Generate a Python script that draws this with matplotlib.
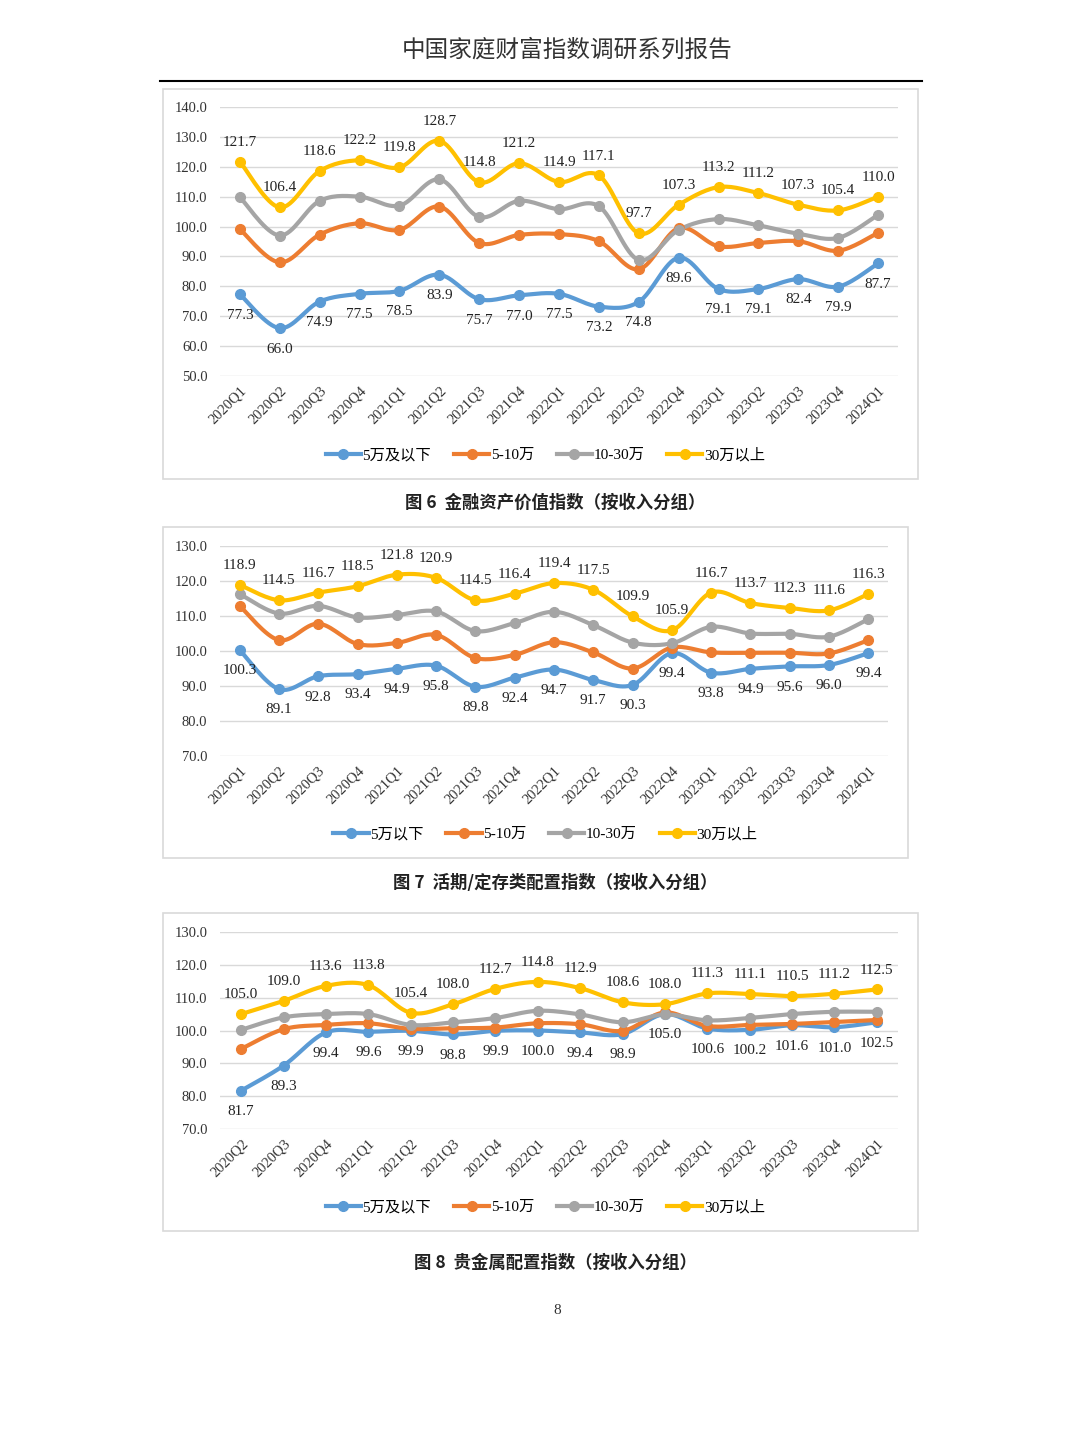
import matplotlib
matplotlib.use("Agg")
import matplotlib.pyplot as plt
import numpy as np
from matplotlib.patches import Rectangle
from matplotlib.lines import Line2D

plt.rcParams['font.family'] = ['Liberation Serif', 'Noto Sans CJK SC', 'DejaVu Sans']

# ---- data ----
quarters_a = ["2020Q1", "2020Q2", "2020Q3", "2020Q4", "2021Q1", "2021Q2", "2021Q3", "2021Q4",
              "2022Q1", "2022Q2", "2022Q3", "2022Q4", "2023Q1", "2023Q2", "2023Q3", "2023Q4", "2024Q1"]
quarters_b = quarters_a[1:]

# figure 6: financial asset value index
fin_low = [77.3, 66.0, 74.9, 77.5, 78.5, 83.9, 75.7, 77.0, 77.5, 73.2, 74.8, 89.6, 79.1, 79.1, 82.4, 79.9, 87.7]
fin_mid = [99.1, 88.0, 97.3, 101.1, 98.9, 106.7, 94.5, 97.2, 97.5, 95.1, 85.7, 99.5, 93.4, 94.5, 95.1, 91.9, 97.9]
fin_upper = [109.8, 97.0, 108.6, 110.0, 107.0, 115.8, 103.2, 108.6, 105.8, 106.8, 88.8, 98.9, 102.5, 100.4, 97.6, 96.2, 103.9]
fin_high = [121.7, 106.4, 118.6, 122.2, 119.8, 128.7, 114.8, 121.2, 114.9, 117.1, 97.7, 107.3, 113.2, 111.2, 107.3, 105.4, 110.0]

# figure 7: demand/time deposit allocation index
dep_low = [100.3, 89.1, 92.8, 93.4, 94.9, 95.8, 89.8, 92.4, 94.7, 91.7, 90.3, 99.4, 93.8, 94.9, 95.6, 96.0, 99.4]
dep_mid = [112.9, 103.1, 107.8, 102.0, 102.3, 104.6, 98.0, 98.9, 102.5, 99.6, 95.0, 101.0, 99.6, 99.5, 99.5, 99.3, 103.1]
dep_upper = [116.3, 110.7, 112.9, 109.6, 110.3, 111.3, 105.7, 108.0, 111.2, 107.4, 102.4, 102.2, 106.9, 105.0, 104.9, 104.1, 109.1]
dep_high = [118.9, 114.5, 116.7, 118.5, 121.8, 120.9, 114.5, 116.4, 119.4, 117.5, 109.9, 105.9, 116.7, 113.7, 112.3, 111.6, 116.3]

# figure 8: precious metal allocation index
met_low = [81.7, 89.3, 99.4, 99.6, 99.9, 98.8, 99.9, 100.0, 99.4, 98.9, 105.0, 100.6, 100.2, 101.6, 101.0, 102.5]
met_mid = [94.4, 100.4, 101.7, 102.2, 100.5, 100.7, 100.9, 102.2, 101.9, 99.9, 105.5, 101.4, 101.7, 102.0, 102.6, 103.2]
met_upper = [100.2, 104.0, 105.0, 105.0, 101.7, 102.5, 103.8, 106.0, 104.9, 102.5, 104.9, 103.1, 103.8, 105.0, 105.7, 105.7]
met_high = [105.0, 109.0, 113.6, 113.8, 105.4, 108.0, 112.7, 114.8, 112.9, 108.6, 108.0, 111.3, 111.1, 110.5, 111.2, 112.5]

colors = ["#5B9BD5", "#ED7D31", "#A5A5A5", "#FFC000"]
W, H = 1080, 1443


def box(x0, y0, x1, y1):
    return [x0 / W, 1 - y1 / H, (x1 - x0) / W, (y1 - y0) / H]


def smooth(y, n=16):
    # Catmull-Rom curve through the points, similar to Excel's smoothed lines
    y = np.asarray(y, float)
    x = np.arange(len(y), dtype=float)
    p = np.column_stack([x, y])
    p = np.vstack([p[0], p, p[-1]])
    out = []
    t = np.linspace(0, 1, n, endpoint=False)[:, None]
    for i in range(1, len(p) - 2):
        p0, p1, p2, p3 = p[i - 1], p[i], p[i + 1], p[i + 2]
        seg = 0.5 * ((2 * p1) + (-p0 + p2) * t + (2 * p0 - 5 * p1 + 4 * p2 - p3) * t ** 2
                     + (-p0 + 3 * p1 - 3 * p2 + p3) * t ** 3)
        out.append(seg)
    out.append(p[-2][None, :])
    out = np.vstack(out)
    return out[:, 0], out[:, 1]


def draw_chart(rect, frame, cats, series, ylim, names, legend_y):
    fig.patches.append(Rectangle((frame[0] / W, 1 - frame[3] / H), (frame[2] - frame[0]) / W,
                                 (frame[3] - frame[1]) / H, transform=fig.transFigure,
                                 fill=False, edgecolor="#D9D9D9", linewidth=1.2))
    ax = fig.add_axes(rect)
    x = np.arange(len(cats))
    for vals, c in zip(series, colors):
        sx, sy = smooth(vals)
        ax.plot(sx, sy, color=c, linewidth=3, solid_capstyle="round", zorder=3)
        ax.plot(x, vals, "o", color=c, markersize=7, zorder=4)
    for xi, v in zip(x, series[0]):
        ax.annotate(f"{v:.1f}", (xi, v), xytext=(0, -15), textcoords="offset points",
                    ha="center", va="center", fontsize=11, color="#222222")
    for xi, v in zip(x, series[3]):
        ax.annotate(f"{v:.1f}", (xi, v), xytext=(0, 14), textcoords="offset points",
                    ha="center", va="center", fontsize=11, color="#222222")
    ax.set_xlim(-0.5, len(cats) - 0.5)
    ax.set_ylim(*ylim)
    ticks = np.arange(ylim[0], ylim[1] + 1, 10)
    ax.set_yticks(ticks)
    ax.set_yticklabels([f"{v:.1f}" for v in ticks], fontsize=10.5, color="#333333")
    ax.grid(axis="y", color="#D9D9D9", linewidth=1)
    ax.set_axisbelow(True)
    for s in ax.spines.values():
        s.set_visible(False)
    ax.tick_params(axis="y", length=0, pad=9)
    ax.set_xticks(x)
    ax.set_xticklabels(cats, rotation=45, ha="right", rotation_mode="anchor", fontsize=10.5,
                       color="#333333")
    ax.tick_params(axis="x", length=0, pad=6)
    handles = [Line2D([], [], color=c, linewidth=3, marker="o", markersize=7) for c in colors]
    fig.legend(handles, names, loc="center", bbox_to_anchor=(0.505, 1 - legend_y / H), ncol=4,
               frameon=False, fontsize=11, handlelength=2.3, handletextpad=0.1, columnspacing=1.5)
    return ax


fig = plt.figure(figsize=(10.8, 14.43), dpi=100)

fig.text(567 / W, 1 - 50 / H, "中国家庭财富指数调研系列报告", ha="center", va="center",
         fontsize=17, family=["Noto Sans CJK SC"], color="#333333")
fig.add_artist(Line2D([160 / W, 922 / W], [1 - 81 / H, 1 - 81 / H], color="black", linewidth=1.5))

draw_chart(box(220, 107, 898, 376), (163, 89, 918, 479), quarters_a,
           [fin_low, fin_mid, fin_upper, fin_high], (50, 140),
           ["5万及以下", "5-10万", "10-30万", "30万以上"], 455)
fig.text(555 / W, 1 - 503 / H, "图 6  金融资产价值指数（按收入分组）", ha="center", va="center",
         fontsize=12.5, fontweight="bold", family=["Noto Sans CJK SC"], color="#222222")

draw_chart(box(220, 546, 888, 756), (163, 527, 908, 858), quarters_a,
           [dep_low, dep_mid, dep_upper, dep_high], (70, 130),
           ["5万以下", "5-10万", "10-30万", "30万以上"], 834)
fig.text(555 / W, 1 - 883 / H, "图 7  活期/定存类配置指数（按收入分组）", ha="center", va="center",
         fontsize=12.5, fontweight="bold", family=["Noto Sans CJK SC"], color="#222222")

draw_chart(box(220, 932, 898, 1129), (163, 913, 918, 1231), quarters_b,
           [met_low, met_mid, met_upper, met_high], (70, 130),
           ["5万及以下", "5-10万", "10-30万", "30万以上"], 1207)
fig.text(555 / W, 1 - 1263 / H, "图 8  贵金属配置指数（按收入分组）", ha="center", va="center",
         fontsize=12.5, fontweight="bold", family=["Noto Sans CJK SC"], color="#222222")

fig.text(557 / W, 1 - 1311 / H, "8", ha="center", va="center", fontsize=11, color="#333333")

fig.savefig("out.png", dpi=100)
